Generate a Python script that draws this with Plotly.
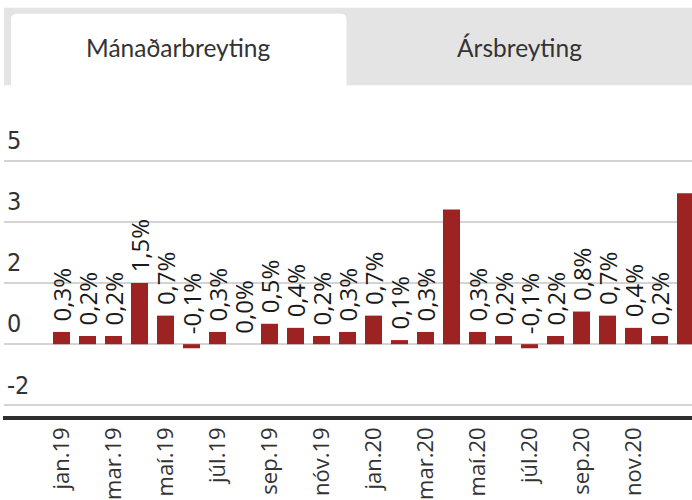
import plotly.graph_objects as go

# ---- data ----
months = ["jan.19", "feb.19", "mar.19", "apr.19", "maí.19", "jún.19", "júl.19", "ágú.19",
          "sep.19", "okt.19", "nóv.19", "des.19", "jan.20", "feb.20", "mar.20", "apr.20",
          "maí.20", "jún.20", "júl.20", "ágú.20", "sep.20", "okt.20", "nov.20", "des.20",
          "jan.21"]
values = [0.3, 0.2, 0.2, 1.5, 0.7, -0.1, 0.3, 0.0, 0.5, 0.4, 0.2, 0.3,
          0.7, 0.1, 0.3, 3.3, 0.3, 0.2, -0.1, 0.2, 0.8, 0.7, 0.4, 0.2, 3.7]
xtick_labels = ["jan.19", "mar.19", "maí.19", "júl.19", "sep.19", "nóv.19",
                "jan.20", "mar.20", "maí.20", "júl.20", "sep.20", "nov.20"]
ytick_vals = [-1.5, 0, 1.5, 3, 4.5]
ytick_text = ["-2", "0", "2", "3", "5"]
tab_labels = ["Mánaðarbreyting", "Ársbreyting"]

# ---- layout geometry ----
W, H = 692, 500
ML, MR, MT, MB = 4, 0, 110, 80
PW, PH = W - ML - MR, H - MT - MB
LABEL_MAX = 3  # labels that would overflow the plot are hidden

def px(x):
    return (x - ML) / PW

def py(y):
    return (H - MB - y) / PH

BAR = "#9c2321"
NARROW = "Liberation Sans Narrow, DejaVu Sans Condensed, sans-serif"
WIDE = "Open Sans, Noto Sans, sans-serif"
TAB = "Lato, Open Sans, sans-serif"

fig = go.Figure()
fig.add_trace(go.Bar(
    x=months, y=values,
    marker=dict(color=BAR, line=dict(width=0)),
    width=0.655,
    hoverinfo="skip",
))

# value labels
for m, v in zip(months, values):
    if v >= LABEL_MAX:
        continue
    fig.add_annotation(
        x=m, y=max(v, 0), xref="x", yref="y",
        text=f"{v:.1f}%".replace(".", ","),
        textangle=-90, showarrow=False, yanchor="bottom", xanchor="center",
        yshift=8, font=dict(family=WIDE, size=24, color="#1a1a1a"),
    )

shapes = []
# tab bar background
shapes.append(dict(type="rect", xref="paper", yref="paper",
                   x0=px(4), x1=px(692), y0=py(85), y1=py(7),
                   fillcolor="#e4e4e4", line=dict(width=0), layer="below"))
# active tab (rounded top corners)
x0, x1, y0, y1, r = px(11), px(346.5), py(85.5), py(13), 6
rx, ry = r / PW, r / PH
path = (f"M {x0},{y0} L {x0},{y1 - ry} Q {x0},{y1} {x0 + rx},{y1} "
        f"L {x1 - rx},{y1} Q {x1},{y1} {x1},{y1 - ry} L {x1},{y0} Z")
shapes.append(dict(type="path", xref="paper", yref="paper", path=path,
                   fillcolor="white", line=dict(width=0), layer="below"))
# thick baseline
shapes.append(dict(type="line", xref="paper", yref="paper",
                   x0=px(3), x1=px(692), y0=0, y1=0,
                   line=dict(color="#2e2e2e", width=4), layer="above"))

for cx, label in zip([178.5, 519.5], tab_labels):
    fig.add_annotation(x=px(cx), y=py(47), xref="paper", yref="paper", text=label,
                       showarrow=False, xanchor="center", yanchor="middle",
                       font=dict(family=TAB, size=24.5, color="#333333"))

fig.update_layout(
    width=W, height=H,
    margin=dict(l=ML, r=MR, t=MT, b=MB),
    paper_bgcolor="white", plot_bgcolor="white",
    showlegend=False,
    shapes=shapes,
)
fig.update_xaxes(
    type="category", categoryorder="array", categoryarray=months,
    range=[-2.2115, 24.25],
    tickmode="array", tickvals=xtick_labels, ticktext=xtick_labels,
    tickangle=-90, ticks="", showgrid=False, showline=False, zeroline=False,
    tickfont=dict(family=WIDE, size=22, color="#333333"),
    ticklabelstandoff=4,
)
fig.update_yaxes(
    range=[-1.809, 5.739],
    tickmode="array", tickvals=ytick_vals, ticktext=ytick_text,
    ticklabelposition="inside top", ticklabelshift=-3,
    showgrid=True, gridcolor="#d4d4d4", gridwidth=2,
    zeroline=False, showline=False, ticks="",
    tickfont=dict(family=NARROW, size=25, color="#333333"),
)

fig.write_html("out.html", config={"displayModeBar": False},
               post_script="document.body.style.margin='0';")
